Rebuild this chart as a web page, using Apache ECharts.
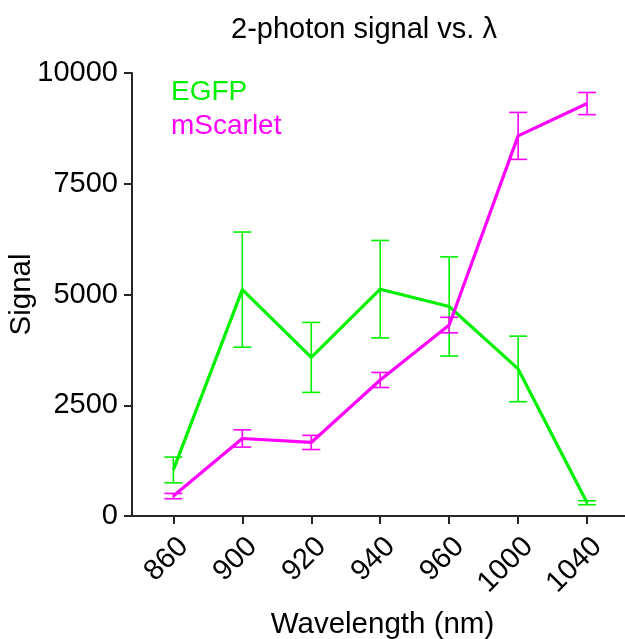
<!DOCTYPE html>
<html>
<head>
<meta charset="utf-8">
<script src="https://cdn.jsdelivr.net/npm/echarts@6.0.0/dist/echarts.min.js"></script>
<style>
  html, body { margin: 0; padding: 0; background: #fff; }
  #chart { width: 625px; height: 639px; }
</style>
</head>
<body>
<div id="chart"></div>
<script>
// 2-photon signal vs. excitation wavelength, mean +/- error
const wavelengths = ["860", "900", "920", "940", "960", "1000", "1040"];
const egfpMean = [1040, 5110, 3580, 5120, 4730, 3320, 300];
const egfpErr = [290, 1300, 790, 1100, 1120, 740, 45];
const mscarletMean = [450, 1750, 1660, 3070, 4310, 8580, 9310];
const mscarletErr = [60, 195, 160, 170, 175, 530, 250];
const yTicks = [0, 2500, 5000, 7500, 10000];

const GREEN = "#00f000";
const MAGENTA = "#ff00ff";
const AXIS = "#262626";
const FONT = "'Liberation Sans', Arial, sans-serif";

const idx = wavelengths.map((_, i) => i);

function linePoints(means) {
  return means.map((v, i) => [i, v]);
}

function barPoints(means, errs) {
  return means.map((v, i) => [i, v - errs[i], v + errs[i]]);
}

function errorBars(color) {
  return (params, api) => {
    const x = api.value(0);
    const lo = api.coord([x, api.value(1)]);
    const hi = api.coord([x, api.value(2)]);
    const half = 9;
    const style = { stroke: color, lineWidth: 1.6 };
    return {
      type: "group",
      children: [
        { type: "line", shape: { x1: hi[0], y1: hi[1], x2: lo[0], y2: lo[1] }, style },
        { type: "line", shape: { x1: hi[0] - half, y1: hi[1], x2: hi[0] + half, y2: hi[1] }, style },
        { type: "line", shape: { x1: lo[0] - half, y1: lo[1], x2: lo[0] + half, y2: lo[1] }, style },
      ],
    };
  };
}

const chart = echarts.init(document.getElementById("chart"), null, { renderer: "canvas" });

chart.setOption({
  animation: false,
  backgroundColor: "#fff",
  textStyle: { fontFamily: FONT },
  title: {
    text: "2-photon signal vs. λ",
    left: 231,
    top: 15,
    padding: 0,
    textStyle: { fontFamily: FONT, fontSize: 29, fontWeight: "normal", color: "#000" },
  },
  legend: {
    orient: "vertical",
    left: 166,
    top: 78,
    padding: 0,
    icon: "none",
    itemWidth: 0,
    itemHeight: 28,
    itemGap: 6,
    selectedMode: false,
    textStyle: { fontFamily: FONT, fontSize: 28 },
    data: [
      { name: "EGFP", textStyle: { color: GREEN } },
      { name: "mScarlet", textStyle: { color: MAGENTA } },
    ],
  },
  grid: { left: 132, right: 0, top: 73, bottom: 123, outerBoundsMode: "none", containLabel: false },
  xAxis: {
    type: "value",
    min: -0.6,
    max: 6.55,
    name: "Wavelength (nm)",
    nameLocation: "middle",
    nameGap: 94,
    nameTextStyle: { fontFamily: FONT, fontSize: 29.5, color: "#000", padding: [0, 0, 0, 8] },
    axisLine: { show: true, onZero: false, lineStyle: { color: AXIS, width: 2 } },
    axisTick: { show: true, inside: false, length: 8, customValues: idx, lineStyle: { color: AXIS, width: 2 } },
    axisLabel: {
      customValues: idx,
      rotate: 45,
      margin: 16,
      verticalAlign: "top",
      fontFamily: FONT,
      fontSize: 29,
      color: "#000",
      formatter: (v) => wavelengths[Math.round(v)] ?? "",
    },
    splitLine: { show: false },
  },
  yAxis: {
    type: "value",
    min: yTicks[0],
    max: yTicks[yTicks.length - 1],
    interval: yTicks[1] - yTicks[0],
    name: "Signal",
    nameLocation: "middle",
    nameGap: 95,
    nameMoveOverlap: false,
    nameTextStyle: { fontFamily: FONT, fontSize: 29.5, color: "#000" },
    axisLine: { show: true, onZero: false, lineStyle: { color: AXIS, width: 2 } },
    axisTick: { show: true, inside: false, length: 8, lineStyle: { color: AXIS, width: 2 } },
    axisLabel: {
      margin: 14,
      fontFamily: FONT,
      fontSize: 29,
      color: "#000",
      formatter: (v) => String(v),
    },
    splitLine: { show: false },
  },
  series: [
    {
      name: "EGFP err",
      type: "custom",
      renderItem: errorBars(GREEN),
      data: barPoints(egfpMean, egfpErr),
      encode: { x: 0, y: [1, 2] },
      clip: false,
      z: 2,
    },
    {
      name: "EGFP",
      type: "line",
      data: linePoints(egfpMean),
      showSymbol: false,
      color: GREEN,
      lineStyle: { color: GREEN, width: 3.2 },
      z: 3,
    },
    {
      name: "mScarlet err",
      type: "custom",
      renderItem: errorBars(MAGENTA),
      data: barPoints(mscarletMean, mscarletErr),
      encode: { x: 0, y: [1, 2] },
      clip: false,
      z: 4,
    },
    {
      name: "mScarlet",
      type: "line",
      data: linePoints(mscarletMean),
      showSymbol: false,
      color: MAGENTA,
      lineStyle: { color: MAGENTA, width: 3.2 },
      z: 5,
    },
  ],
});
</script>
</body>
</html>
